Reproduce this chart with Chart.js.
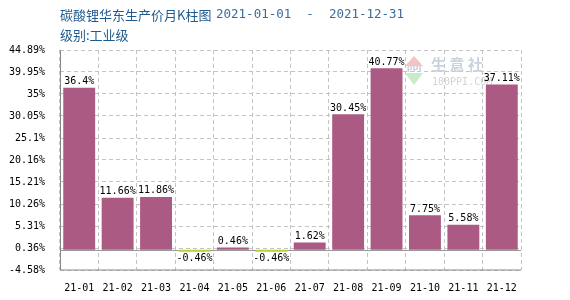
<!DOCTYPE html>
<html lang="zh">
<head>
<meta charset="UTF-8">
<title>碳酸锂华东生产价月K柱图</title>
<script src="https://cdn.jsdelivr.net/npm/chart.js@4.4.0/dist/chart.umd.min.js"></script>
<style>
  html, body { margin: 0; padding: 0; background: #fff; }
</style>
</head>
<body>
<canvas id="chart" width="570" height="300"></canvas>
<script>
const months = ['21-01', '21-02', '21-03', '21-04', '21-05', '21-06', '21-07', '21-08', '21-09', '21-10', '21-11', '21-12'];
const changes = [36.4, 11.66, 11.86, -0.46, 0.46, -0.46, 1.62, 30.45, 40.77, 7.75, 5.58, 37.11];
const yTicks = [-4.58, 0.36, 5.31, 10.26, 15.21, 20.16, 25.1, 30.05, 35, 39.95, 44.89];

const titleText = '碳酸锂华东生产价月K柱图';
const dateText = '2021-01-01  -  2021-12-31';
const levelText = '级别:工业级';

const mono = '"DejaVu Sans Mono", "Liberation Mono", monospace';

// titles, watermark, zero line, value labels
const decor = {
  id: 'decor',
  beforeDatasetsDraw(chart) {
    const ctx = chart.ctx;
    const area = chart.chartArea;
    ctx.save();
    // watermark logo
    ctx.fillStyle = '#f6c3c3';
    ctx.beginPath();
    ctx.moveTo(405, 66); ctx.lineTo(414, 56); ctx.lineTo(423, 66); ctx.closePath();
    ctx.fill();
    ctx.fillStyle = '#c8ecc8';
    ctx.beginPath();
    ctx.moveTo(405, 73); ctx.lineTo(423, 73); ctx.lineTo(414, 85); ctx.closePath();
    ctx.fill();
    ctx.fillStyle = '#c9d2de';
    ctx.font = 'bold 8px "DejaVu Sans"';
    ctx.textAlign = 'center';
    ctx.textBaseline = 'middle';
    ctx.fillText('PPI', 414, 70);
    ctx.font = 'bold 15px "Noto Sans CJK SC"';
    ctx.textAlign = 'left';
    ctx.fillText('生 意 社', 431, 64);
    ctx.fillStyle = '#d4d4d4';
    ctx.font = '10px ' + mono;
    ctx.fillText('100PPI.COM', 432, 82);

    // zero line
    const y0 = chart.scales.y.getPixelForValue(0);
    ctx.strokeStyle = '#999';
    ctx.lineWidth = 1;
    ctx.beginPath();
    ctx.moveTo(area.left, Math.round(y0) + 0.5);
    ctx.lineTo(area.right, Math.round(y0) + 0.5);
    ctx.stroke();

    // solid axes
    ctx.strokeStyle = '#888';
    ctx.beginPath();
    ctx.moveTo(Math.round(area.left) + 0.5, area.top);
    ctx.lineTo(Math.round(area.left) + 0.5, area.bottom);
    ctx.lineTo(area.right, area.bottom);
    ctx.stroke();
    ctx.restore();
  },
  afterDatasetsDraw(chart) {
    const ctx = chart.ctx;
    ctx.save();
    ctx.font = '10px ' + mono;
    ctx.fillStyle = '#000';
    ctx.textAlign = 'center';
    const meta = chart.getDatasetMeta(0);
    meta.data.forEach((bar, i) => {
      const v = changes[i];
      if (v >= 0) {
        ctx.textBaseline = 'bottom';
        ctx.fillText(v + '%', bar.x, bar.y - 1);
      } else {
        ctx.textBaseline = 'top';
        ctx.fillText(v + '%', bar.x, bar.y + 2);
      }
    });

    // header
    ctx.textAlign = 'left';
    ctx.textBaseline = 'middle';
    ctx.fillStyle = '#1f5b8f';
    ctx.font = '13px "Noto Sans CJK SC"';
    ctx.fillText(titleText, 60, 15);
    ctx.fillStyle = '#3a6d9c';
    ctx.font = '12.5px ' + mono;
    ctx.fillText(dateText, 216, 15);
    ctx.fillStyle = '#1f5b8f';
    ctx.font = '13px "Noto Sans CJK SC"';
    ctx.fillText(levelText, 60, 35);
    ctx.restore();
  }
};

const ctx = document.getElementById('chart').getContext('2d');
new Chart(ctx, {
  type: 'bar',
  data: {
    labels: months,
    datasets: [{
      data: changes,
      backgroundColor: changes.map(v => v < 0 ? '#b4d333' : '#ab5a83'),
      categoryPercentage: 1,
      barPercentage: 0.83
    }]
  },
  options: {
    responsive: false,
    animation: false,
    layout: { padding: { top: 50, right: 49, bottom: 0, left: 0 } },
    plugins: {
      legend: { display: false },
      tooltip: { enabled: false },
      title: { display: false }
    },
    scales: {
      x: {
        grid: {
          color: '#c4c4c4',
          drawTicks: false
        },
        border: { display: false, dash: [4, 3] },
        ticks: {
          color: '#000',
          font: { family: mono, size: 10 },
          padding: 12,
          maxRotation: 0
        },
        afterFit(scale) { scale.height = 30; }
      },
      y: {
        min: -4.58,
        max: 44.89,
        afterBuildTicks(scale) {
          scale.ticks = yTicks.map(v => ({ value: v }));
        },
        grid: {
          color: '#c4c4c4',
          drawTicks: false
        },
        border: { display: false, dash: [4, 3] },
        ticks: {
          color: '#000',
          font: { family: mono, size: 10 },
          padding: 15,
          callback: v => v + '%'
        },
        afterFit(scale) { scale.width = 60; }
      }
    }
  },
  plugins: [decor]
});
</script>
</body>
</html>
